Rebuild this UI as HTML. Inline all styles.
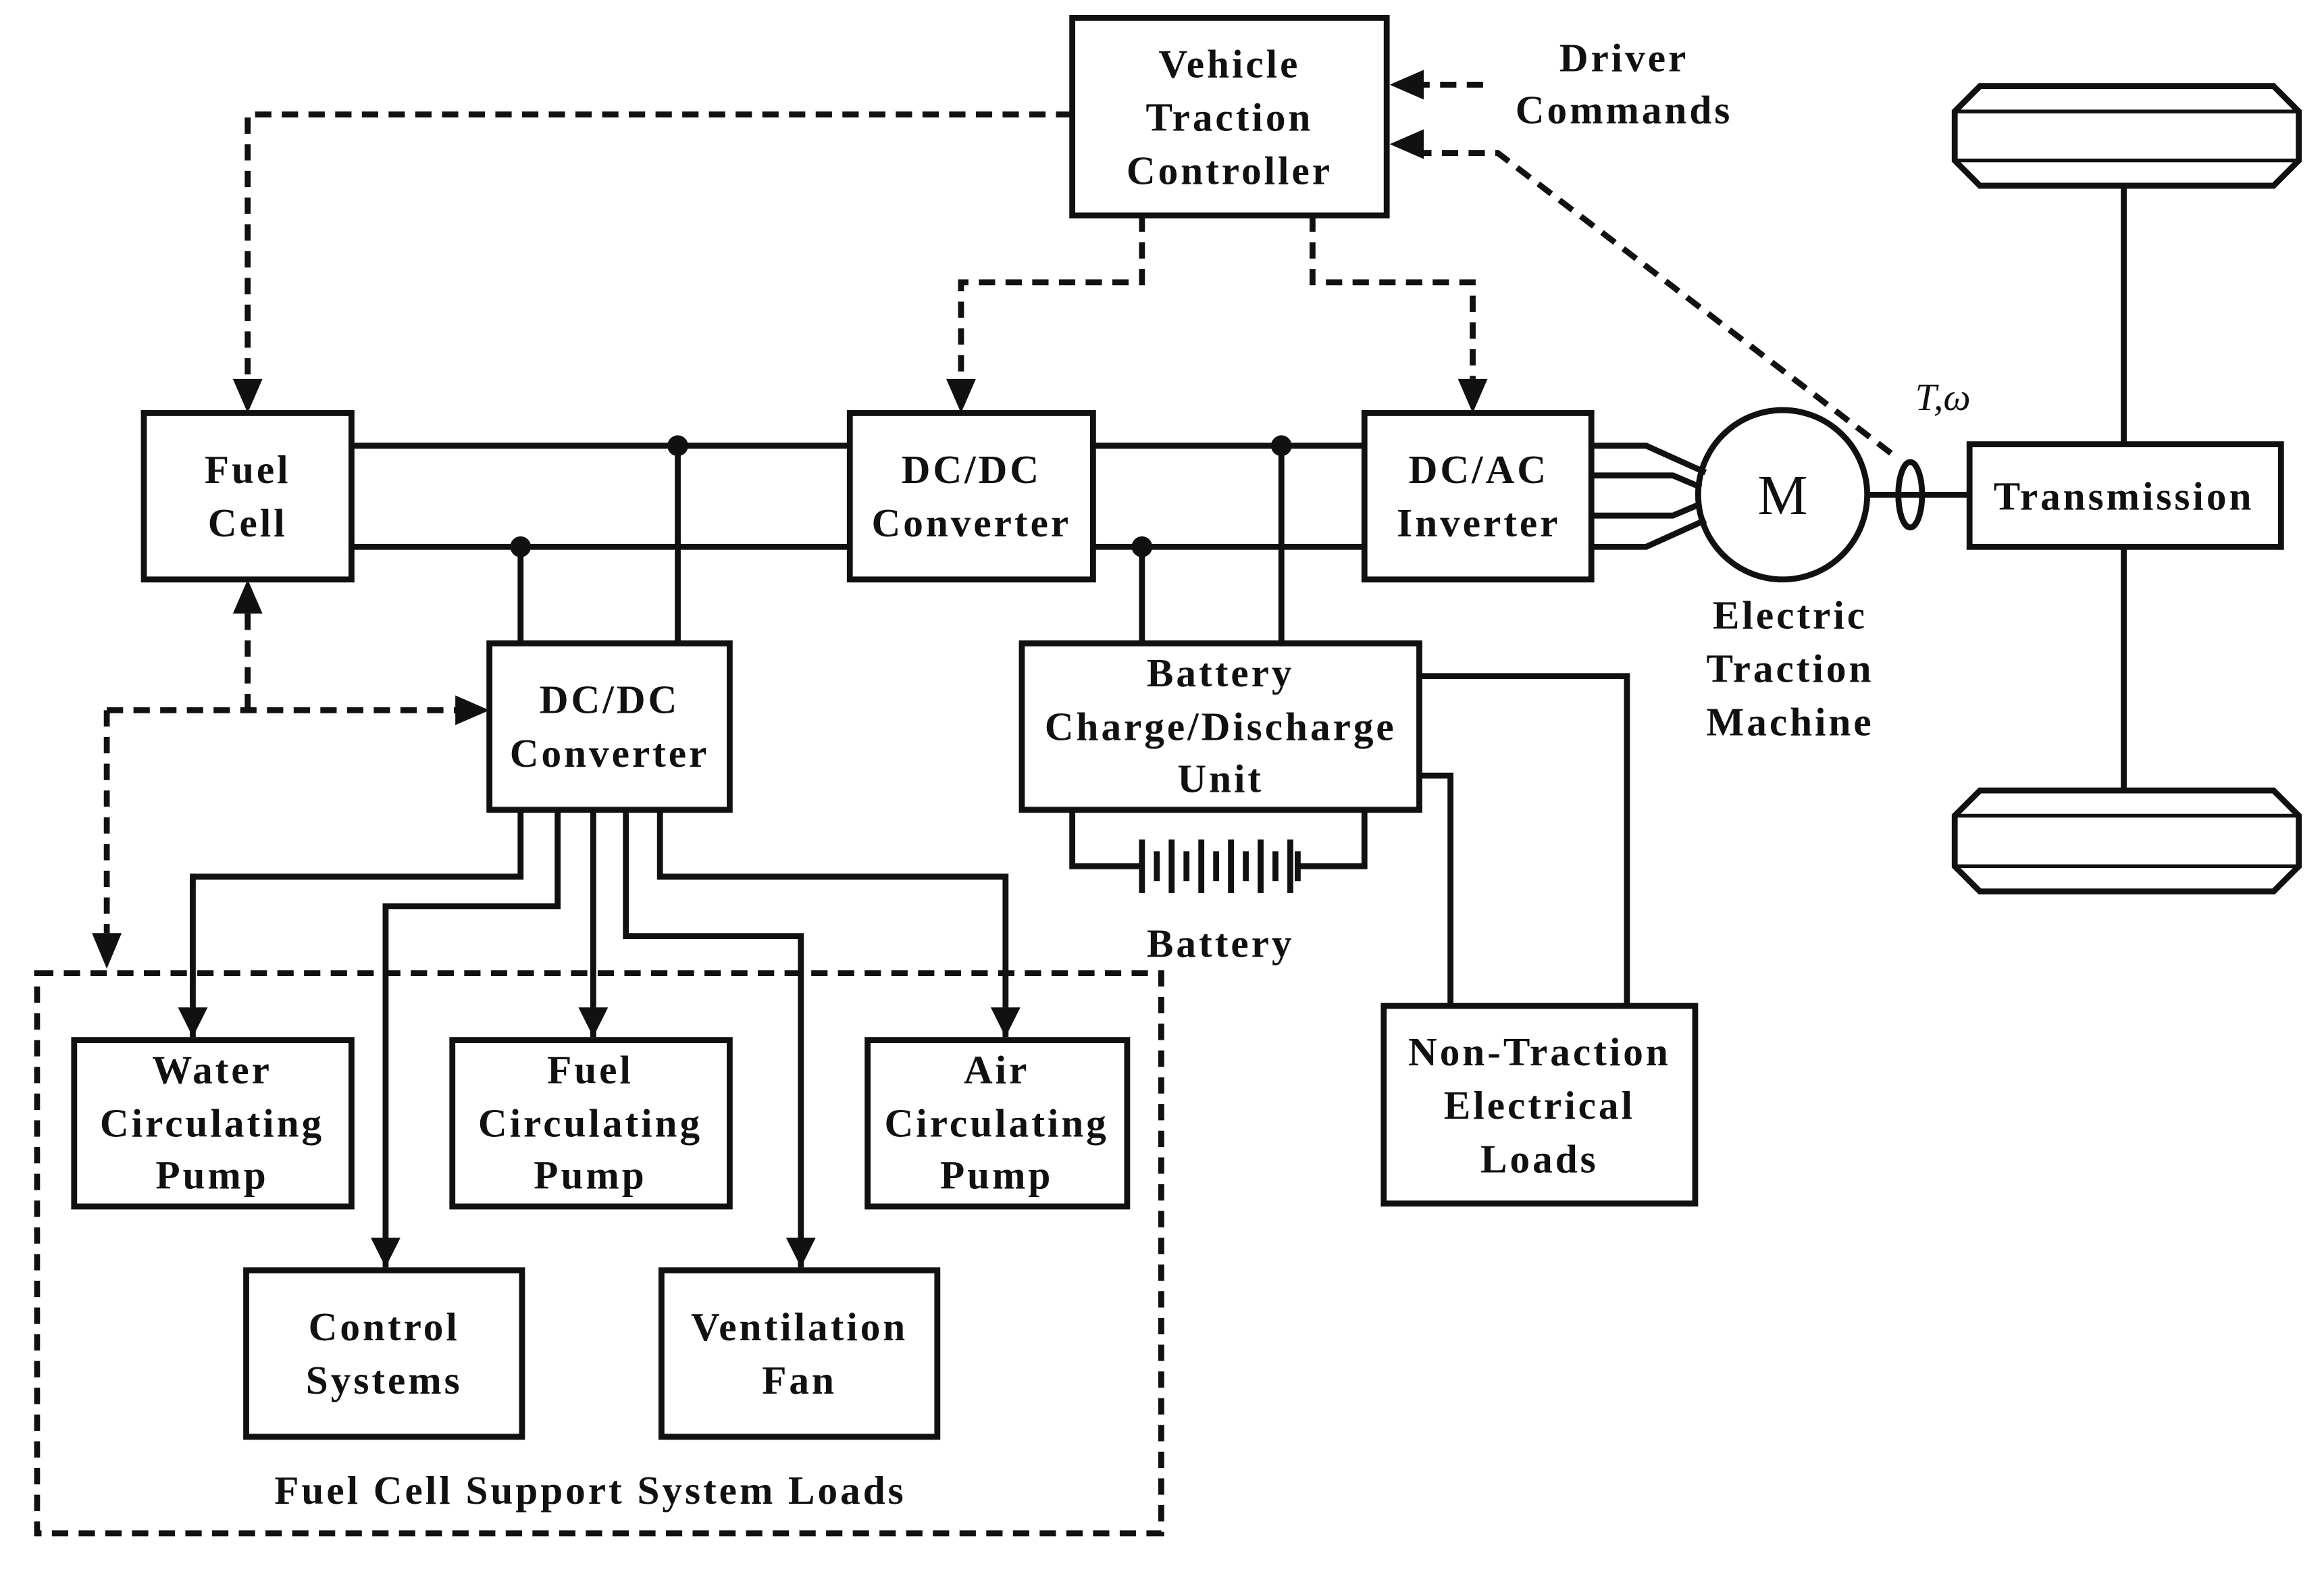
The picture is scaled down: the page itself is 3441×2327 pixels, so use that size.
<!DOCTYPE html>
<html><head><meta charset="utf-8"><style>
html,body{margin:0;padding:0;background:#fff;}
svg{display:block;}
text{font-family:"Liberation Serif",serif;font-weight:bold;font-size:27px;letter-spacing:1.8px;fill:#111;text-anchor:middle;}
</style></head><body>
<svg width="3441" height="2327" viewBox="0 0 1567 1058" preserveAspectRatio="none" xmlns="http://www.w3.org/2000/svg">
<defs>
<marker id="b" markerWidth="20" markerHeight="24" refX="20" refY="12" orient="auto" markerUnits="userSpaceOnUse">
<path d="M0,2 L20,12 L0,22 z" fill="#111"/></marker>
</defs>
<g fill="none" stroke="#111" stroke-width="4">
<rect x="723" y="12" width="212" height="133"/>
<rect x="97" y="278" width="140" height="112"/>
<rect x="573" y="278" width="164" height="112"/>
<rect x="920" y="278" width="153" height="112"/>
<rect x="330" y="433" width="162" height="112"/>
<rect x="689" y="433" width="268" height="112"/>
<rect x="1328" y="299" width="210" height="69"/>
<rect x="50" y="700" width="187" height="112"/>
<rect x="305" y="700" width="187" height="112"/>
<rect x="585" y="700" width="175" height="112"/>
<rect x="166" y="855" width="186" height="112"/>
<rect x="446" y="855" width="186" height="112"/>
<rect x="933" y="677" width="210" height="133"/>
<path d="M237,300H573M237,368H573M737,300H920M737,368H920"/>
<path d="M351,368V433M457,300V433M864,300V433M770,368V433"/>
<path d="M1073,300H1110L1150,318M1073,320H1128L1147,328M1073,347H1128L1147,339M1073,368H1110L1150,350"/>
<circle cx="1202" cy="333" r="57"/>
<path d="M1259,333H1328"/>
<ellipse cx="1288" cy="333" rx="8" ry="22"/>
<path d="M1432,125V299M1432,368V532"/>
<path d="M1335,58H1533L1550,75V108L1533,125H1335L1318,108V75Z"/>
<path d="M1318,75H1550M1318,108H1550" stroke-width="2.5"/>
<path d="M1335,532H1533L1550,549V583L1533,600H1335L1318,583V549Z"/>
<path d="M1318,549H1550M1318,583H1550" stroke-width="2.5"/>
<path d="M351,545V590H130V698" marker-end="url(#b)"/>
<path d="M376,545V610H260V853" marker-end="url(#b)"/>
<path d="M400,545V698" marker-end="url(#b)"/>
<path d="M422,545V630H540V853" marker-end="url(#b)"/>
<path d="M445,545V590H678V698" marker-end="url(#b)"/>
<path d="M723,545V583H770M920,545V583H875"/>
<path d="M770,565V601M780,573V593M790,565V601M800,573V593M810,565V601M820,573V593M830,565V601M840,573V593M850,565V601M860,573V593M870,565V601M875,573V593"/>
<path d="M957,455H1097V677M957,522H978V677"/>
<g stroke-dasharray="11,7">
<path d="M1000,57H957" />
<path d="M1275,305L1010,103H960"/>
<path d="M723,77H167V255"/>
<path d="M770,145V190H648V255"/>
<path d="M885,145V190H993V255"/>
<path d="M167,478V412"/>
<path d="M72,478H308"/>
<path d="M72,478V628"/>
<rect x="25" y="655" width="758" height="377"/>
</g>
</g>
<g fill="#111">
<path d="M937,57L960,47V67Z"/>
<path d="M937,97L960,87V107Z"/>
<path d="M167,278L157,255H177Z"/>
<path d="M648,278L638,255H658Z"/>
<path d="M993,278L983,255H1003Z"/>
<path d="M167,390L157,413H177Z"/>
<path d="M330,478L307,468V488Z"/>
<path d="M72,652L62,628H82Z"/>
<circle cx="457" cy="300" r="7"/><circle cx="351" cy="368" r="7"/>
<circle cx="864" cy="300" r="7"/><circle cx="770" cy="368" r="7"/>
</g>
<text x="829" y="52">Vehicle</text><text x="829" y="88">Traction</text><text x="829" y="124">Controller</text>
<text x="1095" y="48">Driver</text><text x="1095" y="83">Commands</text>
<text x="167" y="325">Fuel</text><text x="167" y="361">Cell</text>
<text x="655" y="325">DC/DC</text><text x="655" y="361">Converter</text>
<text x="997" y="325">DC/AC</text><text x="997" y="361">Inverter</text>
<text x="411" y="480">DC/DC</text><text x="411" y="516">Converter</text>
<text x="823" y="462">Battery</text><text x="823" y="498">Charge/Discharge</text><text x="823" y="533">Unit</text>
<text x="1432" y="343">Transmission</text>
<text x="1202" y="346" style="font-weight:normal;font-size:38px;letter-spacing:0">M</text>
<text x="1310" y="276" style="font-weight:normal;font-style:italic;font-size:26px;letter-spacing:0">T,ω</text>
<text x="1207" y="423">Electric</text><text x="1207" y="459">Traction</text><text x="1207" y="495">Machine</text>
<text x="823" y="644">Battery</text>
<text x="1038" y="717">Non-Traction</text><text x="1038" y="753">Electrical</text><text x="1038" y="789">Loads</text>
<text x="143" y="729">Water</text><text x="143" y="765">Circulating</text><text x="143" y="800">Pump</text>
<text x="398" y="729">Fuel</text><text x="398" y="765">Circulating</text><text x="398" y="800">Pump</text>
<text x="672" y="729">Air</text><text x="672" y="765">Circulating</text><text x="672" y="800">Pump</text>
<text x="259" y="902">Control</text><text x="259" y="938">Systems</text>
<text x="539" y="902">Ventilation</text><text x="539" y="938">Fan</text>
<text x="398" y="1012">Fuel Cell Support System Loads</text>
</svg>
</body></html>
